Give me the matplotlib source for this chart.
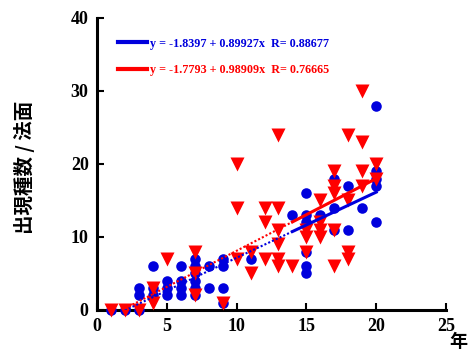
import numpy as np
import matplotlib
matplotlib.use('Agg')
import matplotlib.pyplot as plt

#   Data
blueX = [1, 2, 3, 3, 3, 4, 4, 4, 5, 5, 5, 6, 6, 6, 6, 7, 7, 7, 7, 7, 7, 8, 8,
         9, 9, 9, 9, 11, 14, 15, 15, 15, 15, 15, 15, 16, 17, 17, 17, 18, 18,
         19, 20, 20, 20, 20, 20]
blueY = [0, 0, 0, 2, 3, 2, 3, 6, 2, 3, 4, 2, 3, 4, 6, 2, 3, 4, 5, 6, 7, 6, 3,
         7, 6, 3, 1, 7, 13, 16, 13, 12, 8, 6, 5, 13, 18, 14, 11, 17, 11,
         14, 28, 19, 17, 12, 18]
redX = [1, 2, 3, 4, 4, 5, 7, 7, 7, 9, 10, 10, 10, 11, 11, 12, 12, 12, 13, 13,
        13, 13, 13, 13, 14, 15, 15, 15, 16, 16, 16, 16, 17, 17, 17, 17, 17,
        18, 18, 18, 18, 19, 19, 19, 19, 20, 20]
redY = [0, 0, 0, 3, 1, 7, 8, 5, 2, 1, 20, 14, 7, 8, 5, 14, 12, 7, 24, 14,
        11, 9, 7, 6, 6, 11, 10, 8, 15, 12, 11, 10, 19, 17, 16, 11, 6,
        24, 15, 8, 7, 30, 23, 19, 17, 20, 18]

#   Regression results (intercept, slope, R)
blueFit = (-1.8397, 0.89927, 0.88677)
redFit = (-1.7793, 0.98909, 0.76665)

xTicks = [0, 5, 10, 15, 20, 25]
yTicks = [0, 10, 20, 30, 40]

blueCol = '#0000dd'
redCol = '#ff0000'
serif = 'Liberation Serif'
cjk = ['Noto Sans CJK JP', 'DejaVu Sans']

fig = plt.figure(figsize=(4.7, 3.54), dpi=100)
ax = fig.add_axes([0.2064, 0.1243, 0.7426, 0.8249])

ax.plot(blueX, blueY, 'o', color=blueCol, ms=7.6, mec='none', clip_on=False, zorder=3)
ax.plot(redX, redY, 'v', color=redCol, ms=9.5, mec='none', clip_on=False, zorder=4)

#   Fit lines: dotted through the low part, solid for the upper part
xDot = np.array([2.0, 14.0])
xSol = np.array([14.0, 20.0])
for fit, col in [(blueFit, blueCol), (redFit, redCol)]:
    a, b, r = fit
    ax.plot(xDot, a + b * xDot, color=col, lw=1.5, ls=(0, (1, 1)), zorder=5)
    ax.plot(xSol, a + b * xSol, color=col, lw=2.2, zorder=5,
            label='y = %.4f + %.5fx  R= %.5f' % (a, b, r))

leg = ax.legend(loc='upper left', bbox_to_anchor=(0.03, 0.97), frameon=False,
                handlelength=2.4, handletextpad=0.25, labelspacing=1.2,
                labelcolor='linecolor',
                prop={'family': serif, 'weight': 'bold', 'size': 8.7})
for line in leg.get_lines():
    line.set_linewidth(3)

ax.set_xlim(0, 25)
ax.set_ylim(0, 40)
ax.set_xticks(xTicks)
ax.set_yticks(yTicks)
ax.spines['top'].set_visible(False)
ax.spines['right'].set_visible(False)
ax.spines['left'].set_linewidth(2.2)
ax.spines['bottom'].set_linewidth(2.2)
ax.tick_params(direction='in', length=5, width=1.5, pad=6)
for lab in ax.get_xticklabels() + ax.get_yticklabels():
    lab.set_fontfamily(serif)
    lab.set_fontweight('bold')
    lab.set_fontsize(13)

fig.text(0.053, 0.528, '出現種数 / 法面', rotation=90, ha='center', va='center',
         family=cjk, fontweight='bold', fontsize=14)
fig.text(0.955, 0.035, '年', ha='left', va='center',
         family=cjk, fontweight='bold', fontsize=13)

fig.savefig('out.png', dpi=100)
